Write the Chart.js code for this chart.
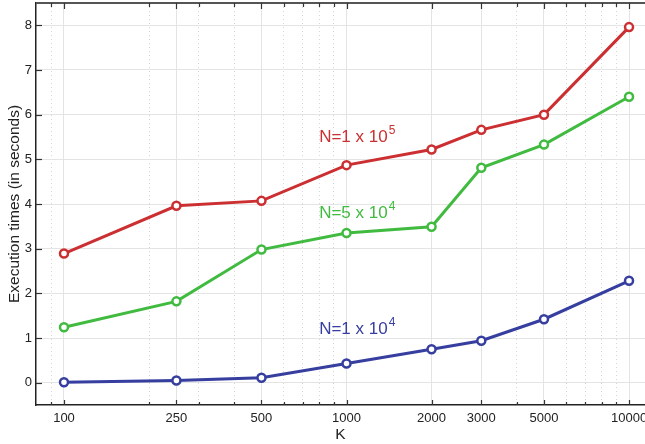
<!DOCTYPE html>
<html>
<head>
<meta charset="utf-8">
<script src="https://cdn.jsdelivr.net/npm/chart.js@4.4.1/dist/chart.umd.min.js"></script>
<style>
  html, body { margin: 0; padding: 0; overflow: hidden; background: #fff; }
  canvas { display: block; }
</style>
</head>
<body>
<canvas id="chart" width="645" height="444"></canvas>
<script>
// x values (K) and the minor log positions that only get dotted grid lines
const kValues = [100, 250, 500, 1000, 2000, 3000, 5000, 10000];
const minorK = [90, 200, 300, 400, 600, 700, 800, 900, 4000, 6000, 7000, 8000, 9000];
const yTickValues = [0, 1, 2, 3, 4, 5, 6, 7, 8];

// execution times in seconds
const timesN1e5 = [2.89, 3.96, 4.07, 4.87, 5.22, 5.66, 6.0, 7.96];
const timesN5e4 = [1.24, 1.82, 2.98, 3.35, 3.49, 4.81, 5.33, 6.40];
const timesN1e4 = [0.01, 0.05, 0.11, 0.43, 0.75, 0.94, 1.42, 2.28];

const seriesColors = ['#cc2f31', '#40bb40', '#363e9f'];

// in-plot labels: base text, exponent, position in data units
const noteTexts = ['N=1 x 10', 'N=5 x 10', 'N=1 x 10'];
const noteExponents = ['5', '4', '4'];
const noteX = [800, 800, 800];
const noteY = [5.38, 3.69, 1.08];

const FONT = '"Liberation Sans", Arial, Helvetica, sans-serif';

function toPoints(values) {
    return kValues.map((k, i) => ({ x: k, y: values[i] }));
}

function isMajor(v) {
    return kValues.includes(v);
}

// inward tick marks, top border and the N= labels
const decorations = {
    id: 'decorations',
    afterDraw(chart) {
        const ctx = chart.ctx;
        const area = chart.chartArea;
        const xs = chart.scales.x;
        const ys = chart.scales.y;

        ctx.save();
        ctx.strokeStyle = '#555';
        ctx.lineWidth = 2;
        ctx.beginPath();
        ctx.moveTo(area.left, area.top);
        ctx.lineTo(area.right, area.top);
        ctx.stroke();

        ctx.strokeStyle = '#333';
        ctx.lineWidth = 1.2;
        xs.ticks.forEach(t => {
            const px = Math.round(xs.getPixelForValue(t.value)) + 0.5;
            const len = isMajor(t.value) ? 5 : 3;
            ctx.beginPath();
            ctx.moveTo(px, area.bottom);
            ctx.lineTo(px, area.bottom - len);
            ctx.moveTo(px, area.top);
            ctx.lineTo(px, area.top + len + 1);
            ctx.stroke();
        });
        ys.ticks.forEach(t => {
            const py = Math.round(ys.getPixelForValue(t.value)) + 0.5;
            ctx.beginPath();
            ctx.moveTo(area.left, py);
            ctx.lineTo(area.left + 6, py);
            ctx.stroke();
        });

        ctx.textBaseline = 'alphabetic';
        ctx.textAlign = 'left';
        noteTexts.forEach((txt, i) => {
            const px = xs.getPixelForValue(noteX[i]);
            const py = ys.getPixelForValue(noteY[i]);
            ctx.fillStyle = seriesColors[i];
            ctx.font = '17px ' + FONT;
            ctx.fillText(txt, px, py);
            const w = ctx.measureText(txt).width;
            ctx.font = '12px ' + FONT;
            ctx.fillText(noteExponents[i], px + w + 1, py - 8);
        });
        ctx.restore();
    }
};

const datasets = [timesN1e5, timesN5e4, timesN1e4].map((vals, i) => ({
    label: noteTexts[i] + '^' + noteExponents[i],
    data: toPoints(vals),
    borderColor: seriesColors[i],
    backgroundColor: seriesColors[i],
    pointBackgroundColor: '#fff',
    pointBorderColor: seriesColors[i],
    pointRadius: 4,
    pointBorderWidth: 2.5,
    borderWidth: 3,
    tension: 0,
    clip: false
}));

new Chart(document.getElementById('chart').getContext('2d'), {
    type: 'line',
    data: { datasets: datasets },
    options: {
        responsive: false,
        animation: false,
        layout: {
            autoPadding: false,
            padding: { top: 3, right: 0, left: 0, bottom: 0 }
        },
        plugins: {
            legend: { display: false },
            tooltip: { enabled: false }
        },
        scales: {
            x: {
                type: 'logarithmic',
                min: 79.6,
                max: 11390,
                afterBuildTicks(scale) {
                    scale.ticks = kValues.concat(minorK)
                        .sort((a, b) => a - b)
                        .map(v => ({ value: v, major: false }));
                },
                afterFit(scale) {
                    scale.height = 39;
                    scale.paddingLeft = 0;
                    scale.paddingRight = 0;
                },
                ticks: {
                    autoSkip: false,
                    maxRotation: 0,
                    padding: 6,
                    color: '#222',
                    font: { family: FONT, size: 13 },
                    callback: v => isMajor(v) ? String(v) : ''
                },
                grid: {
                    drawTicks: false,
                    color: c => c.tick && isMajor(c.tick.value) ? '#e4e4e4' : '#d6d6d6',
                    lineWidth: 1
                },
                border: {
                    color: '#222',
                    width: 1.5,
                    dash: c => (c.tick && !isMajor(c.tick.value)) ? [1, 3] : []
                },
                title: {
                    display: true,
                    text: 'K',
                    color: '#222',
                    font: { family: FONT, size: 15.5 },
                    padding: { top: 0, bottom: 0 }
                }
            },
            y: {
                min: -0.5,
                max: 8.5,
                afterBuildTicks(scale) {
                    scale.ticks = yTickValues.map(v => ({ value: v }));
                },
                afterFit(scale) {
                    scale.width = 36;
                    scale.paddingTop = 0;
                    scale.paddingBottom = 0;
                },
                ticks: {
                    padding: 4,
                    color: '#222',
                    font: { family: FONT, size: 13 }
                },
                grid: {
                    drawTicks: false,
                    color: '#e4e4e4',
                    lineWidth: 1
                },
                border: { color: '#222', width: 1.5 },
                title: {
                    display: true,
                    text: 'Execution times (in seconds)',
                    color: '#222',
                    font: { family: FONT, size: 15.5 },
                    padding: { top: 5, bottom: 0 }
                }
            }
        }
    },
    plugins: [decorations]
});
</script>
</body>
</html>
